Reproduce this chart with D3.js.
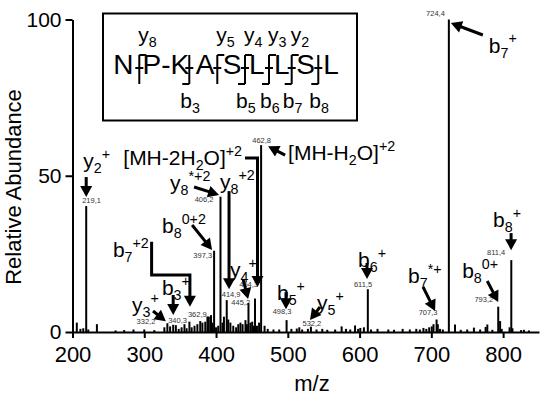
<!DOCTYPE html>
<html>
<head>
<meta charset="utf-8">
<script src="https://cdn.jsdelivr.net/npm/d3@7"></script>
<style>
  body { margin: 0; background: #fff; }
  svg { display: block; font-family: 'Liberation Sans', Arial, sans-serif; }
</style>
</head>
<body>
<div id="chart"></div>
<script>
// labelled peaks (m/z, relative abundance)
const peakMz  = [219.1, 332.2, 340.3, 362.9, 397.3, 406.2, 414.9, 445.2, 454.3, 462.8, 498.3, 532.2, 611.5, 707.3, 724.4, 793.2, 811.4];
const peakInt = [40.3, 2.8, 2.3, 3.3, 26, 43.3, 10.2, 9.3, 10.7, 59.8, 3.8, 1.7, 13.7, 4, 100, 8.1, 23];

// small unlabelled peaks
const noiseMz  = [206, 211, 215, 222, 234, 260, 272, 285, 300, 314, 328, 336, 344, 348, 352, 356, 359, 366, 370, 374, 378, 381, 385, 388, 390, 393, 395, 400, 403, 409, 411, 417, 420, 424, 428, 431, 434, 437, 441, 443, 448, 450.4, 452, 457, 460, 467.6, 472, 480, 488, 505, 512.5, 516, 520, 528, 540, 548, 555, 566, 575, 581, 587, 593.7, 598, 601, 606, 616, 625, 640, 648, 660, 670, 679, 684, 689, 693, 697, 700.6, 703, 709, 712, 716, 733, 741, 750, 759.3, 768, 775.6, 778, 785, 795.8, 798, 809, 813, 825, 829, 836];
const noiseInt = [3, 1, 1.2, 0.8, 2.5, 0.5, 0.6, 0.8, 0.8, 0.6, 1.5, 1.8, 2.2, 1, 1.5, 2.5, 1.2, 1.5, 2, 2.5, 3.5, 3, 3.3, 5, 4.9, 5.4, 3, 1.5, 2, 3, 4.9, 4, 3, 2, 1.5, 2.5, 3, 2.5, 3.8, 2.5, 3, 3.3, 2, 2, 3, 2, 1, 0.8, 0.8, 1, 1.1, 1.5, 0.8, 1, 0.8, 1, 0.7, 0.8, 1.8, 1, 0.8, 2.1, 1, 1.3, 1.5, 0.8, 1, 0.8, 0.7, 1, 0.8, 1, 0.8, 1.3, 1, 1.5, 1.8, 2.5, 2.5, 1, 0.8, 2.4, 0.7, 0.8, 1.4, 0.8, 1.6, 2.4, 0.7, 3.5, 1, 1.5, 1.2, 0.6, 0.7, 0.5];

const xTicks = [200, 300, 400, 500, 600, 700, 800];
const yTicks = [0, 50, 100];

// fragment ion annotations: target peak and label pieces
const ionMz = [724.4, 219.1, 454.3, 462.8, 406.2, 414.9, 397.3, 362.9, 340.3, 332.2, 445.2, 498.3, 532.2, 611.5, 707.3, 811.4, 793.2];
const ionText = [
  [['b'], ['7', 'sub'], ['+', 'sup']],
  [['y'], ['2', 'sub'], ['+', 'sup']],
  [['[MH-2H'], ['2', 'sub'], ['O]'], ['+2', 'sup']],
  [['[MH-H'], ['2', 'sub'], ['O]'], ['+2', 'sup']],
  [['y'], ['8', 'sub'], ['*+2', 'sup']],
  [['y'], ['8', 'sub'], ['+2', 'sup']],
  [['b'], ['8', 'sub'], ['0+2', 'sup']],
  [['b'], ['7', 'sub'], ['+2', 'sup']],
  [['b'], ['3', 'sub'], ['+', 'sup']],
  [['y'], ['3', 'sub'], ['+', 'sup']],
  [['y'], ['4', 'sub'], ['+', 'sup']],
  [['b'], ['5', 'sub'], ['+', 'sup']],
  [['y'], ['5', 'sub'], ['+', 'sup']],
  [['b'], ['6', 'sub'], ['+', 'sup']],
  [['b'], ['7', 'sub'], ['*+', 'sup']],
  [['b'], ['8', 'sub'], ['+', 'sup']],
  [['b'], ['8', 'sub'], ['0+', 'sup']]
];

// peptide sequence and observed cleavages
const residues = ['N', 'P-K', 'A', 'S', 'L', 'L', 'S', 'L'];
const yIons = ['8', null, '5', '4', '3', '2', null];
const bIons = [null, '3', null, '5', '6', '7', '8'];

// ---- layout (pixel offsets relative to the peak top) ----
const peakLabelPos = [
  ['start', -4, -3], ['end', -12, 1], ['start', -5, -1.5], ['start', -1.5, -5],
  ['end', -2, 7], ['end', -7, 5], ['start', -5, -3.4], ['end', 1.6, 2],
  ['end', 3, -12], ['middle', 0.5, -2], ['middle', -4.5, -6], ['middle', 1, -1],
  ['middle', -4.8, -2], ['middle', -8.5, -4.5], ['end', -4, -4], ['end', -5, -5], ['end', -6, -5]
];
const ionLayout = [
  { t: [40, 33], a: [[34, 15.5], [2, 3.5]] },
  { t: [-3, -38], a: [[0, -29], [0, -9]] },
  { t: [-131.7, -133.6], a: [[-10, -140.6], [2.5, -140.6], [2.5, -11.6]] },
  { t: [27, 15], a: [[24, 10], [7, 1]] },
  { t: [-50.4, -6.7], a: [[-26.4, -9.7], [-1.4, -1.7]] },
  { t: [-6.7, -111], a: [[2.3, -109], [2.3, -11]] },
  { t: [-52.1, -17.8], a: [[-22, -25.8], [-2, -0.8]] },
  { t: [-76.5, -64.7], a: [[-37.8, -80], [-37.8, -46.7], [0.5, -46.7], [0.5, -15]] },
  { t: [-11.3, -29.8], a: [[0, -29.8], [0, -9.8]] },
  { t: [-35.4, -11.2], a: [[-14.4, -12.2], [-1.5, -2]] },
  { t: [-18.4, -25.9], a: [[-5.4, -23.9], [-0.4, -3.9]] },
  { t: [-9.6, -20.1], a: [[-0.6, -28], [-0.6, -11]] },
  { t: [6.1, -16.7], a: [[9.1, -19.7], [-0.9, -6.7]] },
  { t: [-9.8, -22.2], a: [[-0.8, -26.2], [-0.8, -10.2]] },
  { t: [-28.5, -36.5], a: [[-13.5, -32.5], [-1.5, -8.5]] },
  { t: [-18.2, -33.1], a: [[-0.2, -27], [-0.2, -10]] },
  { t: [-36.1, -28.7], a: [[-11, -25.7], [0, -4.7]] }
];
const residueX = [123.3, 165.8, 205, 232, 256.7, 281.7, 305.5, 331];
const cutX = [139.3, 189.3, 217.3, 245, 269, 291.7, 318.3];

const width = 542, height = 397;
const svg = d3.select('#chart').append('svg')
  .attr('width', width)
  .attr('height', height);

const x = d3.scaleLinear().domain([200, 850]).range([72.5, 539]);
const y = d3.scaleLinear().domain([0, 100]).range([332, 19.5]);

// rich text with sub/superscripts
function richText(g, tx, ty, parts, size) {
  const t = g.append('text').attr('x', tx).attr('y', ty).attr('font-size', size).attr('fill', '#000');
  let shift = 0;
  parts.forEach(([s, m]) => {
    const target = m === 'sub' ? size * 0.25 : m === 'sup' ? -size * 0.45 : 0;
    t.append('tspan')
      .attr('dy', target - shift)
      .attr('font-size', m ? size * 0.68 : size)
      .text(s);
    shift = target;
  });
  return t;
}

function arrow(g, pts) {
  const [x1, y1] = pts[pts.length - 2], [x2, y2] = pts[pts.length - 1];
  const a = Math.atan2(y2 - y1, x2 - x1);
  const hl = 11, hw = 6;
  const bx = x2 - hl * Math.cos(a), by = y2 - hl * Math.sin(a);
  const line = pts.slice(0, -1).concat([[bx + Math.cos(a), by + Math.sin(a)]]);
  g.append('path')
    .attr('d', d3.line()(line))
    .attr('fill', 'none')
    .attr('stroke', '#000')
    .attr('stroke-width', 3);
  g.append('path')
    .attr('d', `M${x2},${y2}L${bx - hw * Math.sin(a)},${by + hw * Math.cos(a)}L${bx + hw * Math.sin(a)},${by - hw * Math.cos(a)}Z`)
    .attr('fill', '#000');
}

// peaks
const noise = noiseMz.map((m, i) => ({ mz: m, v: noiseInt[i] }));
const peaks = peakMz.map((m, i) => ({ mz: m, v: peakInt[i] }));

svg.append('g').selectAll('line')
  .data(noise.concat(peaks))
  .enter().append('line')
  .attr('x1', d => x(d.mz)).attr('x2', d => x(d.mz))
  .attr('y1', y(0)).attr('y2', d => y(d.v))
  .attr('stroke', '#000')
  .attr('stroke-width', 2);

// axes
const xAxis = svg.append('g')
  .attr('transform', `translate(0,${y(0)})`)
  .call(d3.axisBottom(x).tickValues(xTicks).tickSize(6).tickSizeOuter(0).tickPadding(8));
const yAxis = svg.append('g')
  .attr('transform', `translate(${x(200)},0)`)
  .call(d3.axisLeft(y).tickValues(yTicks).tickSize(7).tickSizeOuter(0).tickPadding(4));
[xAxis, yAxis].forEach(a => {
  a.select('.domain').attr('stroke-width', 2);
  a.selectAll('.tick line').attr('stroke-width', 2);
  a.selectAll('.tick text')
    .attr('font-size', a === xAxis ? 22 : 21)
    .attr('font-family', "'Liberation Sans', Arial, sans-serif")
    .attr('fill', '#000');
});

svg.append('text')
  .attr('x', 312).attr('y', 391)
  .attr('text-anchor', 'middle')
  .attr('font-size', 22)
  .text('m/z');
svg.append('text')
  .attr('transform', 'translate(21,187) rotate(-90)')
  .attr('text-anchor', 'middle')
  .attr('font-size', 22)
  .text('Relative Abundance');

// peak value labels
svg.append('g').selectAll('text')
  .data(peaks)
  .enter().append('text')
  .attr('x', (d, i) => x(d.mz) + peakLabelPos[i][1])
  .attr('y', (d, i) => y(d.v) + peakLabelPos[i][2])
  .attr('text-anchor', (d, i) => peakLabelPos[i][0])
  .attr('font-size', 7.5)
  .attr('fill', '#333')
  .text(d => d.mz.toFixed(1).replace('.', ','));

// ion annotations
const ann = svg.append('g');
ionMz.forEach((m, i) => {
  const k = peakMz.indexOf(m);
  const px = x(m), py = y(peakInt[k]);
  const L = ionLayout[i];
  richText(ann, px + L.t[0], py + L.t[1], ionText[i], 21);
  arrow(ann, L.a.map(p => [px + p[0], py + p[1]]));
});

// peptide fragmentation box
const box = svg.append('g');
box.append('rect')
  .attr('x', 103).attr('y', 13.5).attr('width', 254).attr('height', 107)
  .attr('fill', '#fff').attr('stroke', '#000').attr('stroke-width', 2);
box.selectAll('.res')
  .data(residues)
  .enter().append('text')
  .attr('class', 'res')
  .attr('x', (d, i) => residueX[i])
  .attr('y', 74)
  .attr('text-anchor', 'middle')
  .attr('font-size', 28)
  .text(d => d);

cutX.forEach((cx, i) => {
  let d = `M${cx},55V84M${cx - 4},68H${cx + 4}`;
  if (yIons[i]) d += `M${cx},55H${cx + 7}`;
  if (bIons[i]) d += `M${cx},84H${cx - 7}`;
  box.append('path').attr('d', d).attr('fill', 'none').attr('stroke', '#000').attr('stroke-width', 2);
  if (yIons[i]) richText(box, cx - 1, 41.7, [['y'], [yIons[i], 'sub']], 21);
  if (bIons[i]) richText(box, cx - 9, 108, [['b'], [bIons[i], 'sub']], 21);
});
</script>
</body>
</html>
